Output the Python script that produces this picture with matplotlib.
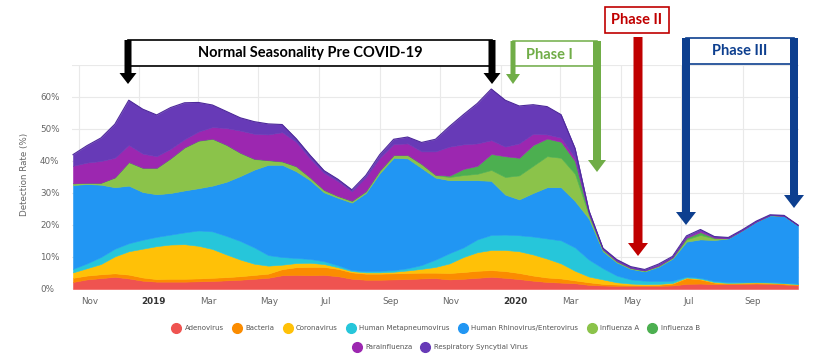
import matplotlib
matplotlib.use("Agg")
import matplotlib.pyplot as plt
from matplotlib.lines import Line2D
from matplotlib.patches import FancyArrow, Rectangle
from matplotlib.transforms import ScaledTranslation
import pandas as pd

# biweekly detection rates (%), Oct 2018 - Oct 2020
dates = pd.date_range("2018-10-26", "2020-10-27", periods=53)

adenovirus = [2.2, 3.0, 3.4, 3.8, 3.3, 2.6, 2.3, 2.3, 2.3, 2.4, 2.5, 2.7, 2.9, 3.2, 3.5,
              4.3, 4.4, 4.3, 4.4, 4.0, 3.2, 2.9, 2.9, 3.0, 3.1, 3.3, 3.4, 3.0, 3.2, 3.5,
              3.8, 3.5, 3.1, 2.6, 2.2, 2.0, 1.8, 1.3, 1.1, 1.0, 1.0, 1.0, 1.0, 1.1, 1.6,
              1.7, 1.5, 1.5, 1.6, 1.7, 1.6, 1.4, 1.2]
bacteria = [1.3, 1.2, 1.2, 1.1, 1.2, 1.0, 0.8, 0.9, 0.9, 0.9, 1.0, 1.0, 1.1, 1.2, 1.3,
            1.9, 2.4, 2.6, 2.5, 2.3, 2.0, 1.9, 1.9, 1.9, 1.9, 1.8, 1.7, 2.0, 2.1, 2.2,
            2.1, 2.1, 1.9, 1.6, 1.4, 1.3, 0.9, 0.8, 0.5, 0.4, 0.3, 0.2, 0.3, 0.6, 1.8,
            1.3, 0.5, 0.3, 0.3, 0.3, 0.3, 0.3, 0.2]
coronavirus = [1.7, 2.3, 3.2, 5.3, 7.3, 9.0, 10.3, 10.7, 10.8, 10.2, 9.0, 7.1, 5.2, 3.5, 2.5,
               1.4, 1.3, 1.3, 0.9, 0.5, 0.4, 0.4, 0.4, 0.5, 0.8, 1.2, 1.8, 3.0, 4.7, 5.8,
               6.3, 6.6, 6.8, 6.6, 5.9, 4.7, 3.0, 1.8, 1.4, 0.7, 0.4, 0.3, 0.3, 0.2, 0.2,
               0.2, 0.2, 0.1, 0.1, 0.1, 0.1, 0.1, 0.1]
metapneumovirus = [1.1, 1.5, 2.2, 2.4, 2.5, 2.8, 2.9, 3.1, 3.7, 4.8, 5.5, 5.8, 5.8, 5.1, 3.3,
                   2.4, 1.6, 1.2, 0.9, 0.6, 0.3, 0.4, 0.5, 0.5, 0.7, 1.2, 2.3, 3.2, 3.0, 4.0,
                   4.7, 4.8, 5.0, 5.6, 6.3, 7.2, 7.3, 5.3, 3.5, 2.1, 1.3, 1.1, 0.9, 0.7, 0.3,
                   0.3, 0.3, 0.3, 0.2, 0.2, 0.2, 0.2, 0.2]
rhinovirus = [26.2, 24.8, 22.6, 19.2, 18.0, 14.9, 13.3, 13.0, 13.1, 13.2, 14.3, 16.9, 20.3, 24.3, 28.2,
              28.8, 27.1, 24.6, 21.5, 21.1, 21.1, 24.4, 30.5, 35.1, 34.3, 30.3, 25.6, 22.8, 21.0, 18.5,
              16.9, 12.5, 11.2, 13.6, 16.0, 16.6, 14.5, 12.8, 5.3, 4.1, 3.3, 2.9, 4.5, 6.9, 10.9,
              12.0, 12.8, 13.6, 16.1, 18.7, 20.8, 20.8, 18.1]
influenza_a = [0.5, 0.4, 0.6, 3.0, 7.3, 7.5, 8.2, 10.8, 13.4, 14.8, 14.6, 11.5, 7.2, 3.3, 1.4,
               1.0, 1.5, 0.8, 0.7, 0.5, 0.5, 0.5, 0.8, 0.8, 1.0, 1.2, 0.8, 1.0, 1.6, 2.0,
               3.4, 5.5, 7.5, 8.5, 9.7, 9.2, 8.5, 1.0, 0.4, 0.3, 0.2, 0.2, 0.2, 0.3, 0.7,
               1.4, 0.5, 0.1, 0.1, 0.1, 0.1, 0.1, 0.1]
influenza_b = [0.0, 0.0, 0.0, 0.1, 0.1, 0.1, 0.1, 0.1, 0.1, 0.1, 0.1, 0.1, 0.1, 0.1, 0.1,
               0.1, 0.1, 0.1, 0.1, 0.1, 0.1, 0.1, 0.1, 0.1, 0.1, 0.1, 0.1, 0.4, 1.9, 2.5,
               5.0, 6.5, 5.5, 6.5, 5.5, 5.0, 4.0, 0.5, 0.2, 0.1, 0.1, 0.1, 0.1, 0.1, 0.5,
               0.9, 0.2, 0.0, 0.0, 0.0, 0.0, 0.0, 0.0]
parainfluenza = [5.5, 6.3, 6.8, 6.1, 5.3, 4.4, 3.6, 2.9, 2.5, 2.8, 3.6, 5.2, 6.9, 7.8, 8.0,
                 9.1, 7.6, 5.9, 5.3, 4.6, 2.9, 4.4, 3.9, 3.4, 3.6, 3.9, 7.3, 9.1, 7.7, 7.0,
                 4.3, 3.0, 4.5, 3.5, 1.3, 1.3, 1.0, 0.3, 0.1, 0.2, 0.1, 0.1, 0.2, 0.1, 0.3,
                 0.5, 0.2, 0.1, 0.0, 0.0, 0.0, 0.0, 0.0]
rsv = [3.5, 5.3, 7.2, 10.5, 14.0, 13.9, 12.9, 12.9, 11.4, 9.1, 6.9, 5.2, 4.0, 3.8, 3.3,
       2.4, 1.0, 1.0, 0.7, 0.6, 0.5, 0.5, 1.0, 1.5, 2.0, 2.8, 3.8, 6.3, 9.3, 12.5,
       16.0, 14.5, 11.7, 9.1, 8.7, 7.2, 3.0, 0.7, 0.3, 0.3, 0.3, 0.2, 0.3, 0.2, 0.3,
       0.3, 0.2, 0.1, 0.1, 0.1, 0.1, 0.1, 0.1]

series = [adenovirus, bacteria, coronavirus, metapneumovirus, rhinovirus,
          influenza_a, influenza_b, parainfluenza, rsv]
labels = ["Adenovirus", "Bacteria", "Coronavirus", "Human Metapneumovirus",
          "Human Rhinovirus/Enterovirus", "Influenza A", "Influenza B",
          "Parainfluenza", "Respiratory Syncytial Virus"]
colors = ["#ef5350", "#fb8c00", "#ffc107", "#26c6da", "#2196f3",
          "#8bc34a", "#4caf50", "#9c27b0", "#673ab7"]

tick_dates = pd.date_range("2018-11-01", "2020-09-01", freq="2MS")
tick_labels = ["Nov", "2019", "Mar", "May", "Jul", "Sep",
               "Nov", "2020", "Mar", "May", "Jul", "Sep"]

W, H = 828, 355
fig = plt.figure(figsize=(W / 100, H / 100), dpi=100)
ax = fig.add_axes([72 / W, (H - 289) / H, 727 / W, 224 / H])

polys = ax.stackplot(dates, *series, colors=colors, zorder=2)
for p, c in zip(polys, colors):
    p.set_edgecolor(c)
    p.set_linewidth(0.4)
total = [sum(v) for v in zip(*series)]
ax.plot(dates, total, color="#4e2a9a", lw=0.8, zorder=3)

ax.set_xlim(pd.Timestamp("2018-10-25"), pd.Timestamp("2020-10-28"))
ax.set_ylim(0, 70)
ax.set_yticks(range(0, 71, 10))
ax.set_yticklabels([f"{v}%" for v in range(0, 61, 10)] + [""])
ax.set_xticks(tick_dates)
ax.set_xticklabels(tick_labels)
ax.grid(True, color="#e9e9e9", lw=0.8, zorder=0)
for s in ax.spines.values():
    s.set_visible(False)
ax.axhline(0, color="#d0d0d0", lw=0.8, zorder=1)

ax.tick_params(axis="y", length=0, pad=23, labelsize=6.3, labelcolor="#666666")
ax.tick_params(axis="x", length=0, pad=6, labelsize=6.3, labelcolor="#666666")
for lab in ax.get_yticklabels():
    lab.set_horizontalalignment("left")
shift = ScaledTranslation(0.02, 0, fig.dpi_scale_trans)
for lab in ax.get_xticklabels():
    lab.set_horizontalalignment("left")
    lab.set_transform(lab.get_transform() + shift)
    if lab.get_text() in ("2019", "2020"):
        lab.set_fontweight("bold")
        lab.set_color("#333333")

fig.text(25 / W, 1 - 174 / H, "Detection Rate (%)", rotation=90, ha="center",
         va="center", fontsize=6.3, color="#666666")

# legend: two centred rows
handles = [Line2D([], [], marker="o", ls="none", markersize=7, markerfacecolor=c,
                  markeredgecolor=c) for c in colors]
leg_kw = dict(frameon=False, fontsize=5, labelcolor="#555555", handlelength=1.2,
              handletextpad=0.6, columnspacing=1.3, borderaxespad=0, loc="center")
fig.legend(handles[:7], labels[:7], ncol=7, bbox_to_anchor=(436 / W, 1 - 328 / H), **leg_kw)
fig.legend(handles[7:], labels[7:], ncol=2, bbox_to_anchor=(440 / W, 1 - 347 / H), **leg_kw)

# annotation layer in pixel coordinates
ann = fig.add_axes([0, 0, 1, 1], zorder=5)
ann.set_xlim(0, W)
ann.set_ylim(H, 0)
ann.axis("off")
ann.patch.set_alpha(0)


def down_arrow(x, y0, y1, color, shaft=8, head=19, head_len=12):
    ann.add_patch(FancyArrow(x, y0, 0, y1 - y0, width=shaft, head_width=head,
                             head_length=head_len, length_includes_head=True,
                             color=color, lw=0))


green = "#70ad47"
red = "#c00000"
blue = "#0d3f8f"
font = "Lato"

ann.add_patch(Rectangle((128, 40), 364, 26, fill=False, ec="black", lw=1.2))
down_arrow(128, 40, 84, "black", shaft=7, head=17, head_len=11)
down_arrow(492, 40, 84, "black", shaft=7, head=17, head_len=11)
ann.text(310, 53, "Normal Seasonality Pre COVID-19", ha="center", va="center",
         fontsize=10.5, fontweight="bold", family=font, color="black")

ann.add_patch(Rectangle((513, 41), 84, 25, fill=False, ec=green, lw=1.1))
down_arrow(513, 41, 84, green, shaft=5, head=14, head_len=10)
down_arrow(597, 41, 172, green, shaft=8, head=18, head_len=12)
ann.text(549, 55, "Phase I", ha="center", va="center", fontsize=10.5,
         fontweight="bold", family=font, color=green)

ann.add_patch(Rectangle((605, 7), 64, 26, fill=False, ec=red, lw=1.2))
ann.text(637, 20, "Phase II", ha="center", va="center", fontsize=10.5,
         fontweight="bold", family=font, color=red)
down_arrow(638, 37, 256, red, shaft=9, head=20, head_len=13)

ann.add_patch(Rectangle((686, 38), 108, 26, fill=False, ec=blue, lw=1.2))
down_arrow(686, 38, 225, blue, shaft=8, head=20, head_len=13)
down_arrow(794, 38, 208, blue, shaft=8, head=20, head_len=13)
ann.text(740, 51, "Phase III", ha="center", va="center", fontsize=10.5,
         fontweight="bold", family=font, color=blue)

fig.savefig("out.png", dpi=100)
